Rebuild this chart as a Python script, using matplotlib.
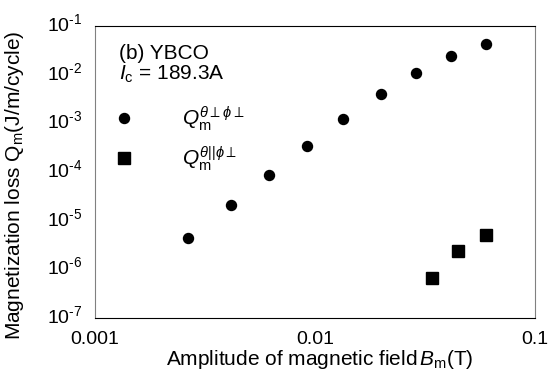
import matplotlib
matplotlib.use("Agg")

import matplotlib.pyplot as plt
import matplotlib.transforms as mtransforms
from matplotlib import rcParams
from matplotlib.lines import Line2D

rcParams["font.family"] = ["Liberation Sans", "DejaVu Sans"]
rcParams["mathtext.fontset"] = "custom"
rcParams["mathtext.rm"] = "Liberation Sans"
rcParams["mathtext.it"] = "Liberation Sans:italic"
rcParams["mathtext.bf"] = "Liberation Sans:bold"

# 데이터
b_perp = [0.00265, 0.00415, 0.00618, 0.0092, 0.0134, 0.0200, 0.0289, 0.0415, 0.0597]
q_perp = [4.5e-6, 2.06e-5, 8.6e-5, 3.4e-4, 1.2e-3, 4.0e-3, 1.07e-2, 2.37e-2, 4.23e-2]

b_par = [0.0339, 0.0448, 0.0599]
q_par = [6.5e-7, 2.4e-6, 5.1e-6]

x_ticks = [0.001, 0.01, 0.1]
x_tick_labels = ["0.001", "0.01", "0.1"]
y_ticks = [1e-7, 1e-6, 1e-5, 1e-4, 1e-3, 1e-2, 1e-1]
y_tick_labels = ["$10^{\u2010%d}$" % e for e in range(7, 0, -1)]

fig = plt.figure(figsize=(5.5, 3.74), dpi=100)
ax = fig.add_axes([95 / 550, 1 - 318 / 374, 440 / 550, 292 / 374])

ax.plot(b_perp, q_perp, "o", color="black", markersize=7.2, linestyle="none")
ax.plot(b_par, q_par, "s", color="black", markersize=9.2, linestyle="none")

ax.set_xscale("log")
ax.set_yscale("log")
ax.set_xlim(0.001, 0.1)
ax.set_ylim(1e-7, 1e-1)
ax.set_xticks(x_ticks)
ax.set_xticklabels(x_tick_labels)
ax.set_yticks(y_ticks)
ax.set_yticklabels(y_tick_labels)
ax.minorticks_off()
ax.tick_params(length=0, labelsize=14)
ax.tick_params(axis="y", pad=9)
ax.tick_params(axis="x", pad=9.5)

# y 눈금 글자를 약간 위로
shift = mtransforms.ScaledTranslation(0, 4 / 100, fig.dpi_scale_trans)
for lab in ax.get_yticklabels():
    lab.set_transform(lab.get_transform() + shift)

for side in ["left", "right"]:
    ax.spines[side].set_color("#808080")
for side in ["top", "bottom"]:
    ax.spines[side].set_color("black")

ax.set_xlabel(r"Amplitude of magnetic field$\,\it{B}_{\rm{m}}$(T)", fontsize=15)
ax.xaxis.set_label_coords(0.51, -0.104)
ax.set_ylabel(r"Magnetization loss Q$_{\rm{m}}$(J/m/cycle)", fontsize=15)
ax.yaxis.set_label_coords(-0.157, 0.455)

ax.text(0.055, 0.886, "(b) YBCO", transform=ax.transAxes, fontsize=15, va="baseline")
ax.text(0.055, 0.815, r"$\it{I}_{\rm{c}}$ = 189.3A", transform=ax.transAxes, fontsize=15, va="baseline")

# 범례
handles = [
    Line2D([], [], marker="o", color="black", linestyle="none", markersize=7.2),
    Line2D([], [], marker="s", color="black", linestyle="none", markersize=9.2),
]
labels = [r"$\it{Q}_{\rm{m}}^{\theta\perp\phi\perp}$", r"$\it{Q}_{\rm{m}}^{\theta||\phi\perp}$"]
ax.legend(handles, labels, loc="upper left", bbox_to_anchor=(0.0, 0.76), frameon=False,
          fontsize=15, handletextpad=1.8, labelspacing=0.55, borderaxespad=0.0)

fig.savefig("out.png", dpi=100)
